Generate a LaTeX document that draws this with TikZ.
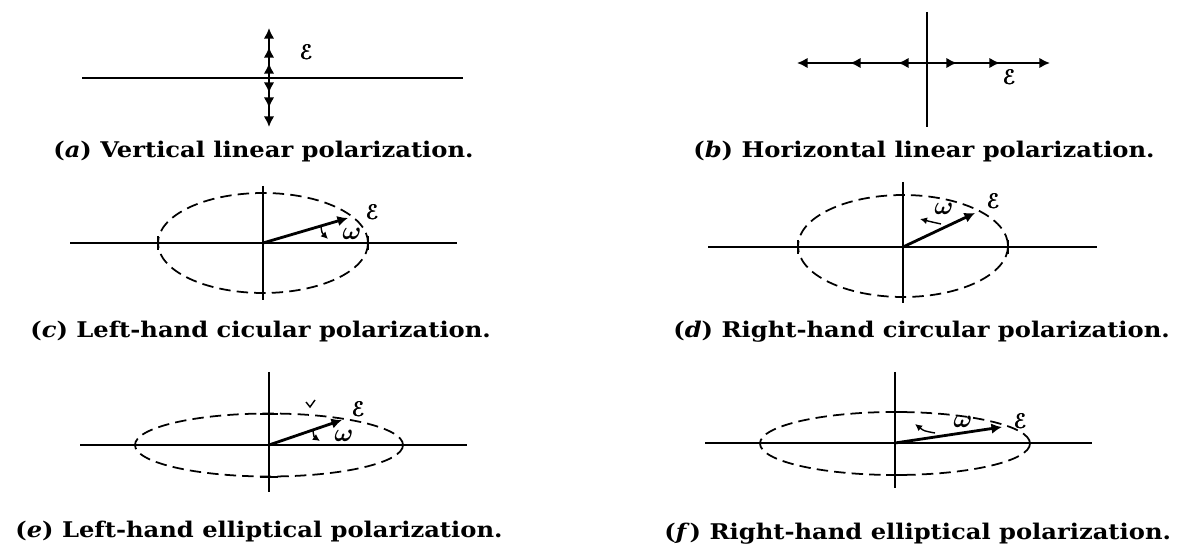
\documentclass[tikz,border=0pt]{standalone}
\usepackage{fontspec}
\setmainfont{DejaVu Serif}
\newfontfamily\captfont[FakeStretch=1.12]{DejaVu Serif}
\usepackage{mathtools}
\usepackage[mathscr]{eucal}
\usetikzlibrary{arrows.meta}
\tikzset{
    axis/.style={line width=0.9pt},
    vaxis/.style={line width=1.6pt},
    vec/.style={line width=1.6pt,-{Latex[length=6pt,width=6pt]}},
    spin/.style={line width=0.8pt,-{Latex[length=4pt,width=4pt]}},
    orbit/.style={line width=1pt,dash pattern=on 6.5pt off 3.5pt},
    capt/.style={anchor=base west,inner sep=0pt,font=\captfont\fontsize{12.3}{14}\selectfont\bfseries},
    field/.style={inner sep=0pt,font=\large},
    freq/.style={inner sep=0pt,font=\Large}
}
\begin{document}
\begin{tikzpicture}[x=0.02cm,y=-0.02cm]
    \useasboundingbox (0,0) rectangle (1178,547);
    % (a)
    \draw[axis] (82,78) -- (463,78);
    \foreach \t in {28,47,63} \draw[vec] (269,78) -- (269,\t);
    \foreach \t in {93,108,127} \draw[vec] (269,78) -- (269,\t);
    \draw (307,52) node[field] (eA) {$\pmb{\mathscr{E}}$};
    \draw (53,158) node[capt] (capA) {(\textit{a}) Vertical linear polarization.};
    % (b)
    \draw[vaxis] (927,12) -- (927,127);
    \foreach \t in {797,850,898} \draw[vec] (927,63) -- (\t,63);
    \foreach \t in {957,1000,1050} \draw[vec] (927,63) -- (\t,63);
    \draw (1010,77) node[field] (eB) {$\pmb{\mathscr{E}}$};
    \draw (693,158) node[capt] (capB) {(\textit{b}) Horizontal linear polarization.};
    % (c)
    \draw[axis] (70,243) -- (457,243);
    \draw[vaxis] (263,186) -- (263,300);
    \draw[orbit] (263,243) ellipse [x radius=105, y radius=50];
    \draw[axis] (158,236) -- (158,250);
    \draw[axis] (368,236) -- (368,250);
    \draw[vec] (263,243) -- (348,218);
    \draw (373,212) node[field] (eC) {$\pmb{\mathscr{E}}$};
    \draw (352,234) node[freq] (wC) {$\boldsymbol{\omega}$};
    \draw[spin] (321,227) .. controls (322,233) .. (328,239);
    \draw (30,338) node[capt] (capC) {(\textit{c}) Left-hand cicular polarization.};
    % (d)
    \draw[axis] (708,247) -- (1097,247);
    \draw[vaxis] (903,182) -- (903,303);
    \draw[orbit] (903,246) ellipse [x radius=105, y radius=51];
    \draw[axis] (798,240) -- (798,254);
    \draw[axis] (1008,240) -- (1008,254);
    \draw[vec] (903,247) -- (975,213);
    \draw (994,201) node[field] (eD) {$\pmb{\mathscr{E}}$};
    \draw (944,209) node[freq] (wD) {$\boldsymbol{\omega}$};
    \draw[spin] (941,224) .. controls (932,222) .. (920,219);
    \draw (673,338) node[capt] (capD) {(\textit{d}) Right-hand circular polarization.};
    % (e)
    \draw[axis] (80,445) -- (467,445);
    \draw[vaxis] (269,372) -- (269,492);
    \draw[orbit] (269,445) ellipse [x radius=134, y radius=31.5];
    \draw[axis] (260,414) -- (278,414);
    \draw[axis] (260,477) -- (278,477);
    \draw[vec] (269,445) -- (342,420);
    \draw (359,409) node[field] (eE) {$\pmb{\mathscr{E}}$};
    \draw (344,436) node[freq] (wE) {$\boldsymbol{\omega}$};
    \draw[spin] (313,431) .. controls (314,437) .. (320,441);
    \draw[line width=0.8pt] (306,402) -- (310,407) -- (315,400);
    \draw (15,538) node[capt] (capE) {(\textit{e}) Left-hand elliptical polarization.};
    % (f)
    \draw[axis] (705,443) -- (1092,443);
    \draw[vaxis] (895,372) -- (895,488);
    \draw[orbit] (895,443.5) ellipse [x radius=135, y radius=31.5];
    \draw[axis] (886,412) -- (905,412);
    \draw[axis] (886,475) -- (905,475);
    \draw[vec] (895,443) -- (1002,427);
    \draw (1021,421) node[field] (eF) {$\pmb{\mathscr{E}}$};
    \draw (963,422) node[freq] (wF) {$\boldsymbol{\omega}$};
    \draw[spin] (935,433) .. controls (924,431) .. (915,424);
    \draw (664,540) node[capt] (capF) {(\textit{f}) Right-hand elliptical polarization.};
\end{tikzpicture}
\end{document}
